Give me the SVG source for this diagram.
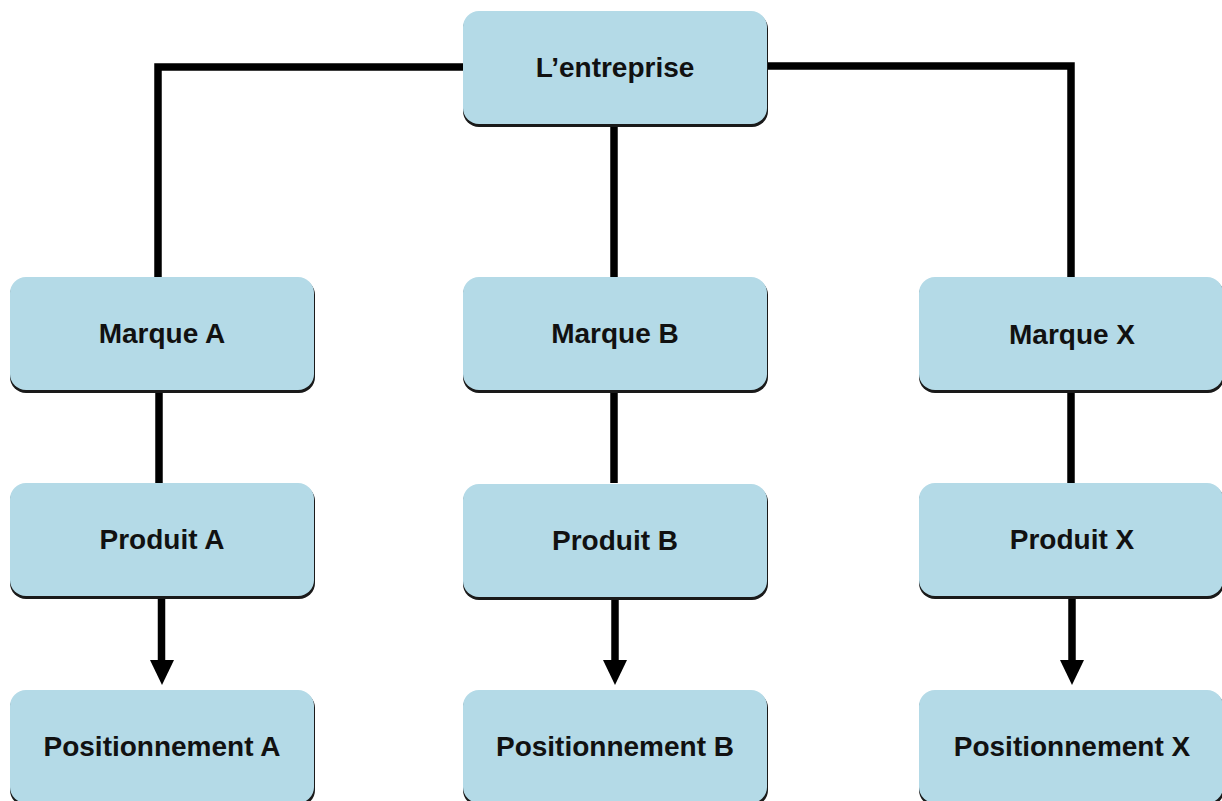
<svg xmlns="http://www.w3.org/2000/svg" width="1222" height="801" viewBox="0 0 1222 801">
<style>
.sh{fill:#1a1a1a}
.bx{fill:#b4dae7}
.t{font-family:"Liberation Sans",Arial,sans-serif;font-weight:bold;font-size:28px;fill:#111;text-anchor:middle}
.ln{fill:none;stroke:#000;stroke-width:7.5}
.ah{fill:#000}
</style>
<g id="connectors">
<polyline class="ln" points="463,67 158,67 158,277"/>
<polyline class="ln" points="767,66 1071,66 1071,277"/>
<line class="ln" x1="614" y1="125" x2="614" y2="277"/>
<line class="ln" x1="159" y1="391" x2="159" y2="483"/>
<line class="ln" x1="614" y1="391" x2="614" y2="483"/>
<line class="ln" x1="1071" y1="391" x2="1071" y2="483"/>
<line class="ln" x1="161.5" y1="597" x2="161.5" y2="662"/>
<path class="ah" d="M150,660 L174,660 L162,685 Z"/>
<line class="ln" x1="615" y1="597" x2="615" y2="662"/>
<path class="ah" d="M603,660 L627,660 L615,685 Z"/>
<line class="ln" x1="1072" y1="597" x2="1072" y2="662"/>
<path class="ah" d="M1060,660 L1084,660 L1072,685 Z"/>
</g>
<g id="entreprise"><rect class="sh" x="463" y="13" width="305" height="114" rx="16"/><rect class="bx" x="463" y="11" width="304" height="113" rx="16"/><text class="t" x="615" y="77">L’entreprise</text></g>
<g id="marqueA"><rect class="sh" x="10" y="279" width="305" height="114" rx="16"/><rect class="bx" x="10" y="277" width="304" height="113" rx="16"/><text class="t" x="162" y="343">Marque A</text></g>
<g id="marqueB"><rect class="sh" x="463" y="279" width="305" height="114" rx="16"/><rect class="bx" x="463" y="277" width="304" height="113" rx="16"/><text class="t" x="615" y="343">Marque B</text></g>
<g id="marqueX"><rect class="sh" x="919" y="279" width="305" height="114" rx="16"/><rect class="bx" x="919" y="277" width="304" height="113" rx="16"/><text class="t" x="1072" y="344">Marque X</text></g>
<g id="produitA"><rect class="sh" x="10" y="485" width="305" height="114" rx="16"/><rect class="bx" x="10" y="483" width="304" height="113" rx="16"/><text class="t" x="162" y="549">Produit A</text></g>
<g id="produitB"><rect class="sh" x="463" y="486" width="305" height="114" rx="16"/><rect class="bx" x="463" y="484" width="304" height="113" rx="16"/><text class="t" x="615" y="550">Produit B</text></g>
<g id="produitX"><rect class="sh" x="919" y="485" width="305" height="114" rx="16"/><rect class="bx" x="919" y="483" width="304" height="113" rx="16"/><text class="t" x="1072" y="549">Produit X</text></g>
<g id="positionA"><rect class="sh" x="10" y="692" width="305" height="114" rx="16"/><rect class="bx" x="10" y="690" width="304" height="113" rx="16"/><text class="t" x="162" y="756">Positionnement A</text></g>
<g id="positionB"><rect class="sh" x="463" y="692" width="305" height="114" rx="16"/><rect class="bx" x="463" y="690" width="304" height="113" rx="16"/><text class="t" x="615" y="756">Positionnement B</text></g>
<g id="positionX"><rect class="sh" x="919" y="692" width="305" height="114" rx="16"/><rect class="bx" x="919" y="690" width="304" height="113" rx="16"/><text class="t" x="1072" y="756">Positionnement X</text></g>
</svg>
